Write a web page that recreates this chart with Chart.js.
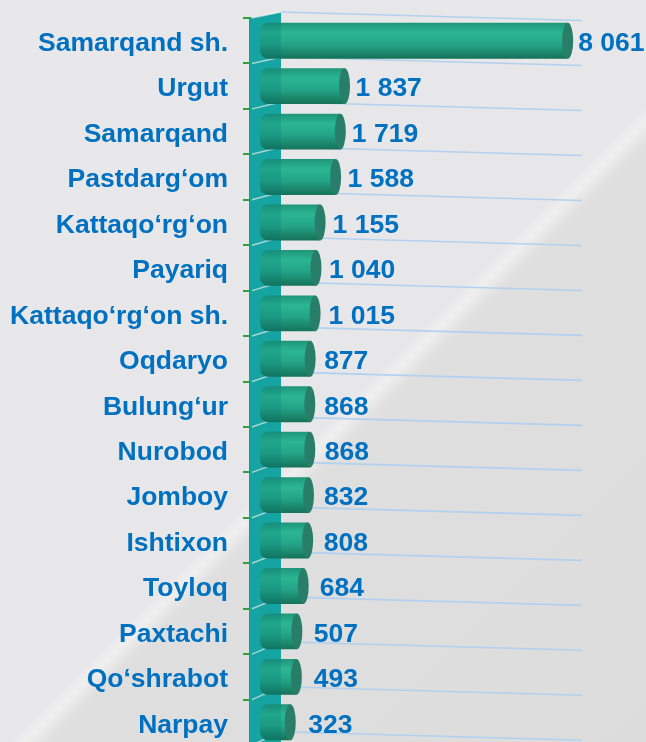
<!DOCTYPE html>
<html>
<head>
<meta charset="utf-8">
<script src="https://cdn.jsdelivr.net/npm/chart.js@4.4.1/dist/chart.umd.min.js"></script>
<style>
  html, body { margin: 0; padding: 0; overflow: hidden; }
  #wrap {
    width: 646px; height: 742px; overflow: hidden;
    background: linear-gradient(135deg, #e8e8ea 0%, #e7e7e9 54%, #efeff0 55.2%, #dfdfe0 57%, #dcdcdc 100%);
  }
  canvas { display: block; }
</style>
</head>
<body>
<div id="wrap"><canvas id="chart" width="646" height="748"></canvas></div>
<script>
const districts = ['Samarqand sh.', 'Urgut', 'Samarqand', 'Pastdarg‘om', 'Kattaqo‘rg‘on', 'Payariq',
    'Kattaqo‘rg‘on sh.', 'Oqdaryo', 'Bulung‘ur', 'Nurobod', 'Jomboy', 'Ishtixon', 'Toyloq',
    'Paxtachi', 'Qo‘shrabot', 'Narpay'];
const counts = [8061, 1837, 1719, 1588, 1155, 1040, 1015, 877, 868, 868, 832, 808, 684, 507, 493, 323];

const blue = '#0070c0';
const font = { family: '"Liberation Sans", Arial, sans-serif', size: 26.5, weight: 'bold' };
const wallLeft = 250, wallRight = 281;

function fmt(v) {
    return String(v).replace(/\B(?=(\d{3})+(?!\d))/g, ' ');
}

// cylinder look for each bar
function barFill(context) {
    const chart = context.chart;
    if (!chart.chartArea) return '#23a285';
    const yc = chart.scales.y.getPixelForValue(context.dataIndex);
    const g = chart.ctx.createLinearGradient(0, yc - 18, 0, yc + 18);
    g.addColorStop(0, '#1f957a');
    g.addColorStop(0.28, '#2bb693');
    g.addColorStop(0.6, '#24a487');
    g.addColorStop(1, '#157258');
    return g;
}

// back wall and slanted grid lines
const wallPlugin = {
    id: 'wall',
    beforeDatasetsDraw(chart) {
        const c = chart.ctx;
        const y = chart.scales.y;
        const right = chart.chartArea.right;
        c.save();
        c.fillStyle = '#1cb3af';
        c.beginPath();
        c.moveTo(wallLeft, y.getPixelForValue(-0.5));
        c.lineTo(wallRight, y.getPixelForValue(-0.5) - 6);
        c.lineTo(wallRight, chart.height);
        c.lineTo(wallLeft, chart.height);
        c.closePath();
        c.fill();
        for (let i = 0; i <= districts.length; i++) {
            const yb = y.getPixelForValue(i - 0.5);
            const rise = 6 + i * 0.45;
            c.strokeStyle = 'rgba(255,255,255,0.85)';
            c.lineWidth = 1.5;
            c.beginPath();
            c.moveTo(wallLeft + 2, yb);
            c.lineTo(wallRight, yb - rise);
            c.stroke();
            c.strokeStyle = 'rgba(175,208,240,0.95)';
            c.lineWidth = 1.6;
            c.beginPath();
            c.moveTo(wallRight, yb - rise);
            c.lineTo(right, yb - rise + 8.5);
            c.stroke();
        }
        c.restore();
    },
    afterDatasetsDraw(chart) {
        const c = chart.ctx;
        const meta = chart.getDatasetMeta(0);
        c.save();
        // end caps
        meta.data.forEach(bar => {
            c.fillStyle = '#297e6a';
            c.beginPath();
            c.ellipse(bar.x, bar.y, 5.5, bar.height / 2, 0, 0, Math.PI * 2);
            c.fill();
        });
        // wall tint over the bar roots
        c.fillStyle = 'rgba(0,120,120,0.25)';
        c.beginPath();
        const top = chart.scales.y.getPixelForValue(-0.5);
        c.moveTo(wallLeft, top);
        c.lineTo(wallRight, top - 6);
        c.lineTo(wallRight, chart.height);
        c.lineTo(wallLeft, chart.height);
        c.closePath();
        c.fill();
        // value labels
        c.font = `bold ${font.size}px ${font.family}`;
        c.fillStyle = blue;
        c.textAlign = 'left';
        c.textBaseline = 'middle';
        meta.data.forEach((bar, i) => {
            c.fillText(fmt(counts[i]), bar.x + 5.5 + 5 + i * 0.5, bar.y + 3);
        });
        c.restore();
    }
};

new Chart(document.getElementById('chart'), {
    type: 'bar',
    data: {
        labels: districts,
        datasets: [{
            data: counts,
            base: -520,
            backgroundColor: barFill,
            borderWidth: 0,
            borderSkipped: false,
            borderRadius: { topLeft: 8, bottomLeft: 8, topRight: 0, bottomRight: 0 },
            barPercentage: 0.79,
            categoryPercentage: 1
        }]
    },
    options: {
        indexAxis: 'y',
        responsive: false,
        animation: false,
        layout: { padding: { top: 18, right: 64, bottom: 3, left: 0 } },
        plugins: { legend: { display: false }, tooltip: { enabled: false } },
        scales: {
            x: {
                display: false,
                min: -800,
                max: 8460
            },
            y: {
                afterFit(scale) {
                    scale.width = 250;
                    scale.paddingTop = 0;
                    scale.paddingBottom = 0;
                },
                border: { color: '#2fa13a', width: 2 },
                grid: {
                    offset: true,
                    drawOnChartArea: false,
                    color: '#2fa13a',
                    tickColor: '#2fa13a',
                    tickLength: 7,
                    lineWidth: 2
                },
                ticks: { color: blue, font: font, padding: 15, labelOffset: 3 }
            }
        }
    },
    plugins: [wallPlugin]
});
</script>
</body>
</html>
